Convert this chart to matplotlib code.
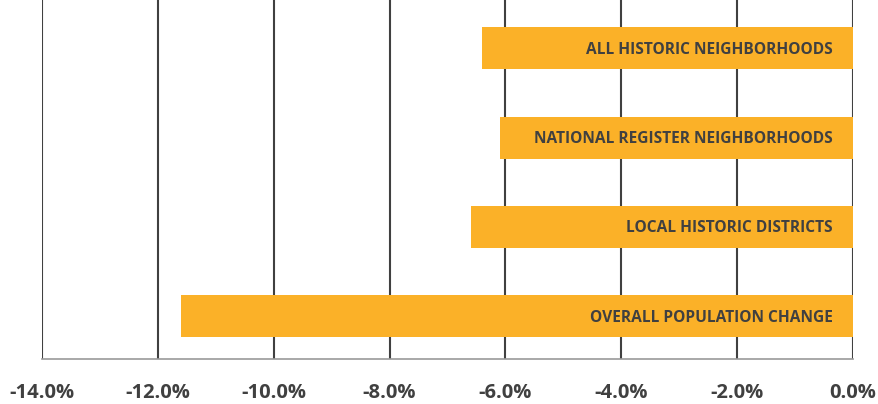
import numpy as np
import matplotlib.pyplot as plt
from matplotlib.ticker import FuncFormatter

categories = ['OVERALL POPULATION CHANGE', 'LOCAL HISTORIC DISTRICTS',
              'NATIONAL REGISTER NEIGHBORHOODS', 'ALL HISTORIC NEIGHBORHOODS']
values = [-11.6, -6.6, -6.1, -6.4]
ticks = [-14, -12, -10, -8, -6, -4, -2, 0]

bar_color = '#FBB128'
text_color = '#404040'

plt.rcParams['font.family'] = ['Open Sans', 'DejaVu Sans']

fig = plt.figure(figsize=(8.79, 4.04), dpi=100)
ax = fig.add_axes([42/879, 1 - 359/404, (853-42)/879, 359/404])

y = np.arange(len(categories))
ax.barh(y, values, height=0.47, color=bar_color, zorder=3)

for yi, label in zip(y, categories):
    ax.annotate(label, xy=(0, yi), xytext=(-14.4, -1), textcoords='offset points',
                ha='right', va='center', fontsize=11.2, fontweight='bold',
                color=text_color, zorder=4)

ax.set_xlim(-14, 0)
ax.set_ylim(-0.48, 3.54)
ax.set_xticks(ticks)
ax.xaxis.set_major_formatter(FuncFormatter(lambda v, p: '%.1f%%' % v))
ax.set_yticks([])

ax.grid(axis='x', color='#404040', linewidth=1.5, zorder=0)
ax.set_axisbelow(True)

for s in ['top', 'right', 'left']:
    ax.spines[s].set_visible(False)
ax.spines['bottom'].set_color('#999999')
ax.spines['bottom'].set_linewidth(1.2)

ax.tick_params(axis='x', length=0, pad=17, labelsize=14.5, labelcolor=text_color)
for t in ax.get_xticklabels():
    t.set_fontweight('bold')

fig.savefig('out.png', dpi=100)
